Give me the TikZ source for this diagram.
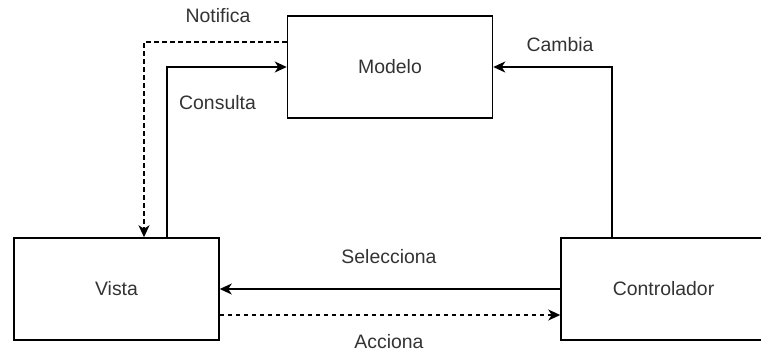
\documentclass[tikz,border=0pt]{standalone}
\usepackage{fontspec}
\setmainfont{Liberation Sans}
\usetikzlibrary{arrows.meta,calc}
\definecolor{txtgray}{HTML}{333333}
\tikzset{
  block/.style={draw=black, line width=1.5bp, minimum width=205bp, minimum height=102bp,
                inner sep=0pt, text=txtgray, font=\fontsize{19.5}{23}\selectfont},
  lbl/.style={anchor=base, inner sep=0pt, text=txtgray, font=\fontsize{19.5}{23}\selectfont},
  link/.style={line width=1.5bp, -{Stealth[length=12bp,width=11bp,inset=3.5bp]}},
  dashlink/.style={link, dash pattern=on 4.5bp off 3.5bp},
}
\begin{document}
\begin{tikzpicture}[x=1bp,y=-1bp]
  \useasboundingbox (0,0) rectangle (761,354);
  % components
  \node[block] (modelo) at (390,67) {Modelo};
  \node[block] (vista) at (116.5,289) {Vista};
  \node[block] (control) at (663.5,289) {Controlador};
  % connectors
  \draw[dashlink] ([yshift=25bp]modelo.west) -| ([xshift=27.5bp]vista.north);
  \draw[link] ([xshift=50.5bp]vista.north) |- (modelo.west);
  \draw[link] ([xshift=-51.5bp]control.north) |- (modelo.east);
  \draw[link] (control.west) -- (vista.east);
  \draw[dashlink] ([yshift=-26bp]vista.east) -- ([yshift=-26bp]control.west);
  % labels
  \node[lbl] (tnotif) at (218,22.7) {Notifica};
  \node[lbl] (tcons) at (217.5,109) {Consulta};
  \node[lbl] (tcamb) at (560,51.5) {Cambia};
  \node[lbl] (tsel) at (389,263) {Selecciona};
  \node[lbl] (tacc) at (389,348) {Acciona};
\end{tikzpicture}
\end{document}
